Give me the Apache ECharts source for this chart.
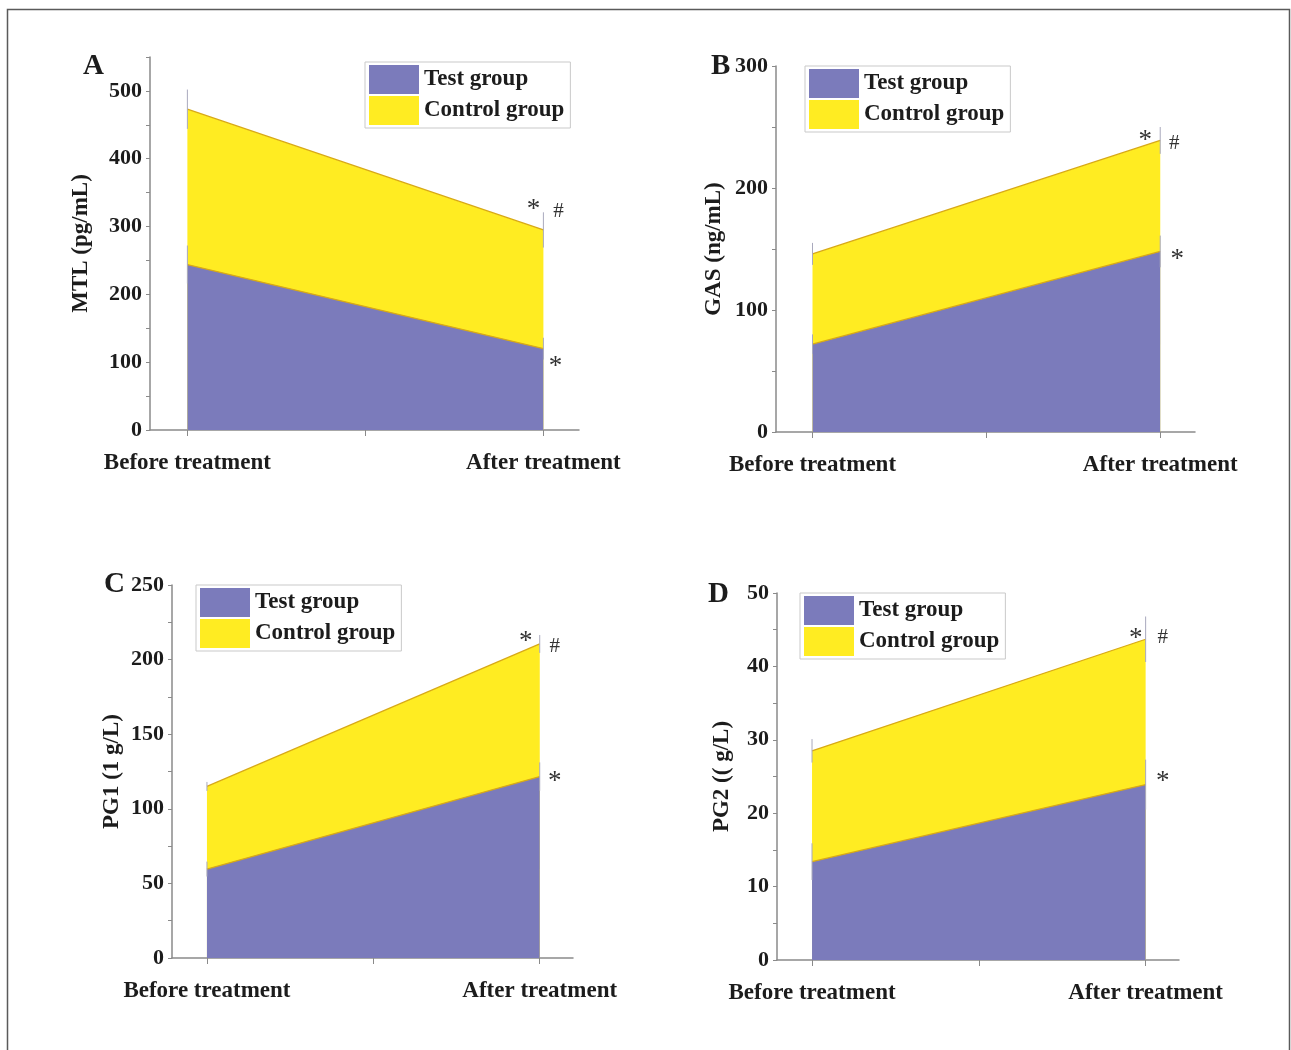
<!DOCTYPE html>
<html>
<head>
<meta charset="utf-8">
<script src="https://cdn.jsdelivr.net/npm/echarts@6/dist/echarts.min.js"></script>
<style>
html, body { margin: 0; padding: 0; background: #fff; }
#chart { width: 1291px; height: 1050px; }
</style>
</head>
<body>
<div id="chart"></div>
<script>
// values
const categories = ['Before treatment', 'After treatment'];
const groups = ['Test group', 'Control group'];

const mtlTest = [244, 120];
const mtlControl = [473, 295];
const mtlTestErr = [28, 16];
const mtlControlErr = [29, 26];

const gasTest = [72, 148];
const gasControl = [146, 239];
const gasTestErr = [8, 13];
const gasControlErr = [9, 11];

const pg1Test = [59.6, 121.6];
const pg1Control = [115, 210.5];
const pg1TestErr = [5, 9.5];
const pg1ControlErr = [3, 6];

const pg2Test = [13.4, 23.9];
const pg2Control = [28.5, 43.7];
const pg2TestErr = [2.5, 3.4];
const pg2ControlErr = [1.6, 3.1];

const yNames = ['MTL (pg/mL)', 'GAS (ng/mL)', 'PG1 (1 g/L)', 'PG2 (( g/L)'];
const letters = ['A', 'B', 'C', 'D'];
const marksTop = ['*', '#'];
const markLow = '*';

const panelData = [
  [mtlTest, mtlControl, mtlTestErr, mtlControlErr],
  [gasTest, gasControl, gasTestErr, gasControlErr],
  [pg1Test, pg1Control, pg1TestErr, pg1ControlErr],
  [pg2Test, pg2Control, pg2TestErr, pg2ControlErr]
];

// layout of the four panels
const panels = [
  { left: 150, top: 57, width: 429, height: 373, max: 550, interval: 50, step: 100, nameGap: 57,
    letter: [83, 52], legend: [365, 62], offTop: [[-10, -20], [15, -18]], offLow: [12, 18] },
  { left: 776, top: 66, width: 419, height: 366, max: 300, interval: 50, step: 100, nameGap: 50,
    letter: [711, 52], legend: [805, 66], offTop: [[-15, 0], [14, 3]], offLow: [17, 8] },
  { left: 172, top: 585, width: 401, height: 373, max: 250, interval: 25, step: 50, nameGap: 48,
    letter: [104, 570], legend: [196, 585], offTop: [[-14, -2], [15, 3]], offLow: [15, 5] },
  { left: 777, top: 593, width: 402, height: 367, max: 50, interval: 5, step: 10, nameGap: 43,
    letter: [708, 580], legend: [800, 593], offTop: [[-10, 0], [17, -2]], offLow: [17, -3] }
];

const BLUE = '#7b7bbb';
const YELLOW = '#ffec22';
const EDGE = '#d8a916';
const AXIS = '#8a8a8a';
const TEXT = '#1c1c1c';
const SERIF = '"Liberation Serif", "Times New Roman", serif';

const myChart = echarts.init(document.getElementById('chart'));

const grid = [], xAxis = [], yAxis = [], legend = [], title = [];
const series = [];

// dummy bars so the legend draws plain filled boxes
series.push({ type: 'bar', name: groups[0], data: [], color: BLUE, xAxisIndex: 0, yAxisIndex: 0 });
series.push({ type: 'bar', name: groups[1], data: [], color: YELLOW, xAxisIndex: 0, yAxisIndex: 0 });

function toPoints (vals) {
  return vals.map((v, i) => [i, v]);
}
function toErr (vals, errs) {
  return vals.map((v, i) => [i, v, errs[i]]);
}
function errorBar (params, api) {
  const x = api.value(0), v = api.value(1), e = api.value(2);
  const a = api.coord([x, v + e]);
  const b = api.coord([x, v - e]);
  return {
    type: 'line',
    shape: { x1: a[0], y1: a[1], x2: b[0], y2: b[1] },
    style: { stroke: '#a9a9bd', lineWidth: 1 }
  };
}

panels.forEach((p, i) => {
  const [test, control, testErr, controlErr] = panelData[i];
  grid.push({ left: p.left, top: p.top, width: p.width, height: p.height, containLabel: false });
  xAxis.push({
    gridIndex: i, type: 'value', min: -0.105, max: 1.1,
    splitLine: { show: false },
    axisLine: { show: true, onZero: false, lineStyle: { color: AXIS, width: 1.5 } },
    axisTick: { show: true, customValues: [0, 0.5, 1], length: 6, lineStyle: { color: AXIS } },
    axisLabel: {
      customValues: [0, 1], margin: 22,
      formatter: v => categories[Math.round(v)],
      fontFamily: SERIF, fontWeight: 'bold', fontSize: 23, color: TEXT
    }
  });
  yAxis.push({
    gridIndex: i, type: 'value', min: 0, max: p.max, interval: p.interval,
    name: yNames[i], nameLocation: 'middle', nameGap: p.nameGap,
    nameTextStyle: { fontFamily: SERIF, fontWeight: 'bold', fontSize: 23, color: TEXT },
    splitLine: { show: false },
    axisLine: { show: true, onZero: false, lineStyle: { color: AXIS, width: 1.5 } },
    axisTick: { show: true, length: 4, lineStyle: { color: AXIS } },
    axisLabel: {
      margin: 8,
      formatter: v => (v % p.step === 0 ? String(v) : ''),
      fontFamily: SERIF, fontWeight: 'bold', fontSize: 22, color: TEXT
    }
  });
  legend.push({
    orient: 'vertical', left: p.legend[0], top: p.legend[1],
    data: groups, icon: 'rect', selectedMode: false,
    itemWidth: 50, itemHeight: 29, itemGap: 2, itemTextGap: 8,
    padding: [3, 6, 3, 4], borderColor: '#c9c9c9', borderWidth: 1, backgroundColor: '#fff',
    itemStyle: { borderWidth: 0 },
    textStyle: { fontFamily: SERIF, fontWeight: 'bold', fontSize: 23, color: TEXT }
  });
  title.push({
    text: letters[i], left: p.letter[0], top: p.letter[1], padding: 0,
    textStyle: { fontFamily: SERIF, fontWeight: 'bold', fontSize: 29, color: TEXT }
  });

  const markLabel = { fontFamily: SERIF, fontSize: 27, color: '#333' };
  series.push({
    type: 'line', name: groups[1], xAxisIndex: i, yAxisIndex: i,
    data: toPoints(control), symbol: 'none', color: YELLOW,
    lineStyle: { color: EDGE, width: 1.3 },
    areaStyle: { color: YELLOW, opacity: 1 },
    markPoint: {
      symbol: 'circle', symbolSize: 0, silent: true,
      data: marksTop.map((m, k) => ({
        coord: [1, control[1]],
        label: Object.assign({ show: true, formatter: m, offset: p.offTop[k] }, markLabel, k === 1 ? { fontSize: 21 } : {})
      }))
    }
  });
  series.push({
    type: 'line', name: groups[0], xAxisIndex: i, yAxisIndex: i,
    data: toPoints(test), symbol: 'none', color: BLUE,
    lineStyle: { color: EDGE, width: 1.3 },
    areaStyle: { color: BLUE, opacity: 1 },
    markPoint: {
      symbol: 'circle', symbolSize: 0, silent: true,
      data: [{
        coord: [1, test[1]],
        label: Object.assign({ show: true, formatter: markLow, offset: p.offLow }, markLabel)
      }]
    }
  });
  series.push({
    type: 'custom', xAxisIndex: i, yAxisIndex: i, z: 5, silent: true,
    renderItem: errorBar, encode: { x: 0, y: 1 },
    data: toErr(control, controlErr)
  });
  series.push({
    type: 'custom', xAxisIndex: i, yAxisIndex: i, z: 5, silent: true,
    renderItem: errorBar, encode: { x: 0, y: 1 },
    data: toErr(test, testErr)
  });
});

const option = {
  backgroundColor: '#fff',
  animation: false,
  title: title,
  legend: legend,
  grid: grid,
  xAxis: xAxis,
  yAxis: yAxis,
  series: series,
  graphic: [{
    type: 'rect', left: 5, top: 7, silent: true,
    shape: { width: 1282, height: 1100 },
    style: { fill: 'none', stroke: '#5a5a5a', lineWidth: 1.5 }
  }]
};
myChart.setOption(option);
</script>
</body>
</html>
